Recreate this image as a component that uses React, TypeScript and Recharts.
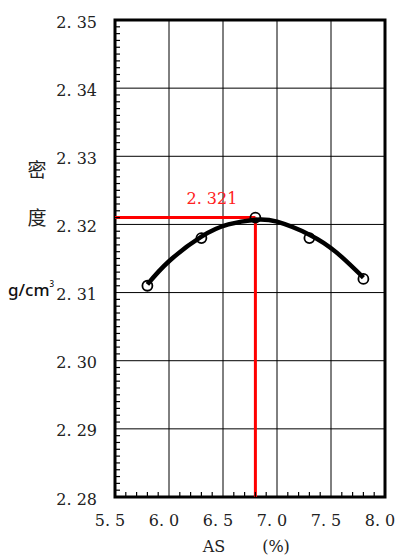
import { ComposedChart, XAxis, YAxis, CartesianGrid, Line, Scatter, ReferenceLine, ReferenceArea } from "recharts";

// 沥青用量 AS (%) 与毛体积密度 (g/cm³)
const asValues = [5.8, 6.3, 6.8, 7.3, 7.8];
const densityValues = [2.311, 2.318, 2.321, 2.318, 2.312];

// 拟合曲线取样
const curveAs = [5.8, 6.0, 6.3, 6.55, 6.8, 7.0, 7.3, 7.55, 7.8];
const curveDensity = [2.3112, 2.3146, 2.3182, 2.32, 2.3207, 2.3204, 2.3185, 2.3159, 2.3122];

// 最大密度对应的沥青用量
const optimumAs = 6.8;
const optimumDensity = 2.321;

const xMajorTicks = [5.5, 6.0, 6.5, 7.0, 7.5, 8.0];
const yMajorTicks = [2.28, 2.29, 2.3, 2.31, 2.32, 2.33, 2.34, 2.35];

const xDomain: [number, number] = [5.5, 8.0];
const yDomain: [number, number] = [2.28, 2.35];

const xMinorTicks = Array.from({ length: 26 }, (_, i) => +(5.5 + i * 0.1).toFixed(1));
const yMinorTicks = Array.from({ length: 71 }, (_, i) => +(2.28 + i * 0.001).toFixed(3));

const points = asValues.map((x, i) => ({ x, y: densityValues[i] }));
const curve = curveAs.map((x, i) => ({ x, y: curveDensity[i] }));

const serif = "DejaVu Serif";
const cjk = "Noto Sans CJK SC";

const isMajor = (v: number, step: number) => Math.abs(v / step - Math.round(v / step)) < 1e-6;
const fmt = (v: number, d: number) => v.toFixed(d).replace(".", ". ");

const numStyle = { fontFamily: serif, fontSize: 16, whiteSpace: "pre" as const };

function YTick({ x, y, payload }: any) {
  const v = payload.value as number;
  if (!isMajor(v, 0.01)) {
    return <line x1={x} x2={x + 5} y1={y} y2={y} stroke="#000" strokeWidth={1.2} />;
  }
  return (
    <text x={x - 18} y={y + 2} textAnchor="end" dominantBaseline="central" fill="#222" style={numStyle}>
      {fmt(v, 2)}
    </text>
  );
}

function XTick({ x, y, payload }: any) {
  const v = payload.value as number;
  if (!isMajor(v, 0.5)) {
    return <line x1={x} x2={x} y1={y} y2={y - 5} stroke="#000" strokeWidth={1.2} />;
  }
  return (
    <text x={x - 5} y={y + 23} textAnchor="middle" dominantBaseline="central" fill="#222" style={numStyle}>
      {fmt(v, 1)}
    </text>
  );
}

function OptimumLabel({ viewBox }: any) {
  const { x, y, width } = viewBox;
  return (
    <text x={x + width - 18} y={y - 19} textAnchor="end" dominantBaseline="central" fill="#ff2020" style={numStyle}>
      {fmt(optimumDensity, 3)}
    </text>
  );
}

function Ring({ cx, cy }: any) {
  return <circle cx={cx} cy={cy} r={5} fill="none" stroke="#000" strokeWidth={1.8} />;
}

const labelStyle = (left: number, top: number, extra: any = {}): any => ({
  position: "absolute",
  left,
  top,
  transform: "translate(-50%, -50%)",
  lineHeight: 1,
  whiteSpace: "nowrap",
  color: "#222",
  ...extra,
});

export default function App() {
  return (
    <div style={{ position: "absolute", left: 0, top: 0, width: 398, height: 558, background: "#fff" }}>
      <ComposedChart width={398} height={558} margin={{ top: 20, right: 13, bottom: 21, left: 0 }}>
        <CartesianGrid horizontalValues={yMajorTicks} verticalValues={xMajorTicks} stroke="#000" strokeWidth={1} />
        <XAxis type="number" dataKey="x" domain={xDomain} ticks={xMinorTicks} interval={0} height={40} axisLine={false} tickLine={false} tickSize={0} tickMargin={0} tick={<XTick />} allowDataOverflow />
        <YAxis type="number" dataKey="y" domain={yDomain} ticks={yMinorTicks} interval={0} width={115} axisLine={false} tickLine={false} tickSize={0} tickMargin={0} tick={<YTick />} allowDataOverflow />
        <ReferenceLine segment={[{ x: xDomain[0], y: optimumDensity }, { x: optimumAs, y: optimumDensity }]} stroke="#ff0000" strokeWidth={3} label={<OptimumLabel />} />
        <ReferenceLine segment={[{ x: optimumAs, y: optimumDensity }, { x: optimumAs, y: yDomain[0] }]} stroke="#ff0000" strokeWidth={3} />
        <Line data={curve} dataKey="y" type="natural" stroke="#000" strokeWidth={4.5} dot={false} isAnimationActive={false} />
        <Scatter data={points} dataKey="y" shape={<Ring />} isAnimationActive={false} />
        <ReferenceArea x1={xDomain[0]} x2={xDomain[1]} y1={yDomain[0]} y2={yDomain[1]} fill="none" fillOpacity={0} stroke="#000" strokeWidth={3} />
      </ComposedChart>
      <div style={labelStyle(37, 168, { fontFamily: cjk, fontSize: 19 })}>密</div>
      <div style={labelStyle(37, 216, { fontFamily: cjk, fontSize: 19 })}>度</div>
      <div style={labelStyle(31, 289, { fontFamily: "Noto Sans", fontSize: 17, fontWeight: 500, color: "#111" })}>
        g/cm<sup style={{ fontSize: 8, verticalAlign: "9px" }}>3</sup>
      </div>
      <div style={labelStyle(214, 547, { fontFamily: serif, fontSize: 16 })}>AS</div>
      <div style={labelStyle(276, 547, { fontFamily: serif, fontSize: 16 })}>(%)</div>
    </div>
  );
}
